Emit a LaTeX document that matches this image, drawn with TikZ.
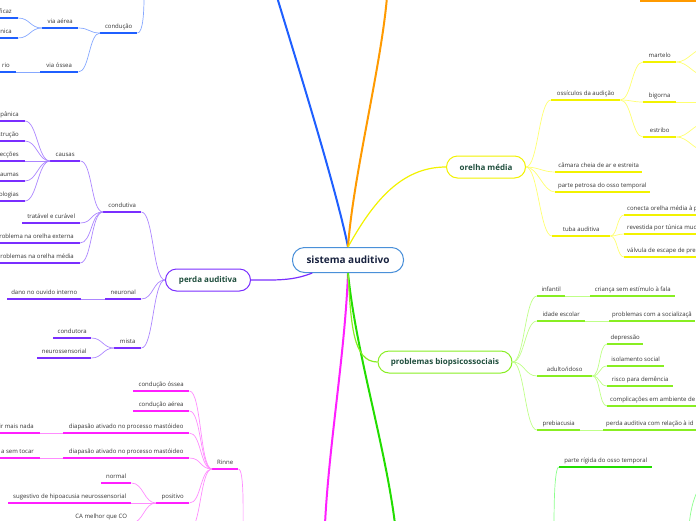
\documentclass[tikz,border=0pt]{standalone}
\usepackage{fontspec}
\setmainfont{Open Sans}
\definecolor{rootblue}{HTML}{4A90D9}
\definecolor{rootnavy}{HTML}{18223F}
\definecolor{topicgreen}{HTML}{1F4E3D}
\definecolor{leaftext}{HTML}{333333}
\definecolor{bluemain}{HTML}{1F5FFF}
\definecolor{bluethin}{HTML}{86A8FF}
\definecolor{orangemain}{HTML}{FF9A00}
\definecolor{yellowmain}{HTML}{F2F200}
\definecolor{yellowthin}{HTML}{FFFF70}
\definecolor{purplemain}{HTML}{7A2EFF}
\definecolor{purplethin}{HTML}{AC86FF}
\definecolor{limemain}{HTML}{88EE22}
\definecolor{limethin}{HTML}{BFFF88}
\definecolor{greenmain}{HTML}{22DD00}
\definecolor{greenthin}{HTML}{8CFF8C}
\definecolor{magentamain}{HTML}{FF1FFF}
\definecolor{magentathin}{HTML}{FF8CFF}
\begin{document}
\begin{tikzpicture}[
  x=1pt, y=-1pt,
  every node/.style={font=\fontsize{6}{7}\selectfont},
  root/.style={draw=rootblue, fill=white, line width=1pt, rounded corners=12pt, minimum width=111pt, minimum height=25pt, font=\bfseries\fontsize{10}{12}\selectfont, text=rootnavy},
  topic/.style={draw=#1, fill=white, line width=1pt, rounded corners=11pt, minimum height=22pt, font=\bfseries\fontsize{8}{9.5}\selectfont, text=topicgreen},
  sub/.style={anchor=south west, text=leaftext, inner xsep=3pt, inner ysep=3pt, text height=4.5pt, text depth=1.3pt,
    append after command={(\tikzlastnode.south west) edge[draw=#1, line width=1.4pt] (\tikzlastnode.south east)}},
  cut/.style={anchor=south east, inner xsep=6pt},
  trunk/.style={draw=#1, line width=2pt},
  link/.style={draw=#1, line width=0.7pt},
  fan/.style={to path={.. controls +(#1,0) and +({-(#1)},0) .. (\tikztotarget)}}
]
\useasboundingbox (0,0) rectangle (696,520);
\clip (0,0) rectangle (696,520);

\node[root] (root) at (348,260) {sistema auditivo};
\node[topic=purplemain, minimum width=85pt] (perda) at (208,280) {perda auditiva};
\node[topic=yellowmain, minimum width=79pt] (orelha) at (486,167) {orelha média};
\node[topic=limemain, minimum width=134pt] (problemas) at (445,362) {problemas biopsicossociais};

\coordinate (blueend) at (277,-3);
\coordinate (orangeend) at (387,-3);
\coordinate (magentaend) at (325,524);
\coordinate (greenend) at (395,524);

% blue
\node[sub=bluemain, minimum width=37pt] (conducao) at (100,33) {condução};
\node[sub=bluemain, minimum width=36pt] (viaaerea) at (42,28) {via aérea};
\node[sub=bluemain, minimum width=38pt] (viaossea) at (40,72) {via óssea};
\node[sub=bluemain, cut] (ficaz) at (18,18) {ficaz};
\node[sub=bluemain, cut] (nica) at (18,38) {nica};
\node[sub=bluemain, cut] (rio) at (16,72) {rio};
\coordinate (conducaoup) at (144,-3);

% orange
\node[sub=orangemain, minimum width=60pt] (orangetopic) at (640,1) {};

% purple
\node[sub=purplemain, minimum width=38pt] (condutiva) at (103,212) {condutiva};
\node[sub=purplemain, minimum width=36pt] (neuronal) at (105,299) {neuronal};
\node[sub=purplemain, minimum width=27pt] (mista) at (114,348) {mista};
\node[sub=purplemain, minimum width=30pt] (causas) at (50,161) {causas};
\node[sub=purplemain, minimum width=58pt] (tratavel) at (22,223) {tratável e curável};
\node[sub=purplemain, cut] (externa) at (80,243) {roblema na orelha externa};
\node[sub=purplemain, cut] (mediaprob) at (80,263) {roblemas na orelha média};
\node[sub=purplemain, cut] (timpanica) at (25,121) {pânica};
\node[sub=purplemain, cut] (obstrucao) at (25,141) {strução};
\node[sub=purplemain, cut] (infeccoes) at (25,161) {fecções};
\node[sub=purplemain, cut] (traumas) at (25,181) {aumas};
\node[sub=purplemain, cut] (patologias) at (25,201) {ologias};
\node[sub=purplemain, minimum width=74pt] (dano) at (7,299) {dano no ouvido interno};
\node[sub=purplemain, minimum width=38pt] (condutora) at (53,338) {condutora};
\node[sub=purplemain, minimum width=54pt] (neurossens) at (37,358) {neurossensorial};

% magenta
\node[sub=magentamain, minimum width=26pt] (rinne) at (212,469) {Rinne};
\node[sub=magentamain, minimum width=56pt] (condossea) at (133,391) {condução óssea};
\node[sub=magentamain, minimum width=56pt] (condaerea) at (133,411) {condução aérea};
\node[sub=magentamain, minimum width=126pt] (diapasaoa) at (63,433) {diapasão ativado no processo mastóideo};
\node[sub=magentamain, minimum width=126pt] (diapasaob) at (63,458) {diapasão ativado no processo mastóideo};
\node[sub=magentamain, minimum width=33pt] (positivo) at (156,503) {positivo};
\node[sub=magentamain, cut] (maisnada) at (40,433) {ir mais nada};
\node[sub=magentamain, cut] (semtocar) at (40,458) {a sem tocar};
\node[sub=magentamain, minimum width=30pt] (normal) at (101,483) {normal};
\node[sub=magentamain, minimum width=123pt] (sugestivo) at (8,503) {sugestivo de hipoacusia neurossensorial};
\node[sub=magentamain, minimum width=60pt] (camelhor) at (71,523) {CA melhor que CO};
\coordinate (rinneparent) at (243,536);
\coordinate (rinnenext) at (189,530);

% yellow
\node[sub=yellowmain, minimum width=69pt] (ossiculos) at (551,100) {ossículos da audição};
\node[sub=yellowmain, minimum width=87pt] (camara) at (555,172) {câmara cheia de ar e estreita};
\node[sub=yellowmain, minimum width=93pt] (petrosa) at (555,192) {parte petrosa do osso temporal};
\node[sub=yellowmain, minimum width=58pt] (tuba) at (552,236) {tuba auditiva};
\node[sub=yellowmain, minimum width=33pt] (martelo) at (643,62) {martelo};
\node[sub=yellowmain, minimum width=33pt] (bigorna) at (643,102) {bigorna};
\node[sub=yellowmain, minimum width=33pt] (estribo) at (643,137) {estribo};
\node[sub=yellowmain] (conecta) at (624,215) {conecta orelha média à p};
\node[sub=yellowmain] (revestida) at (624,234) {revestida por túnica muc};
\node[sub=yellowmain] (valvula) at (624,257) {válvula de escape de pre};
\coordinate (martelotop) at (706,48);
\coordinate (martelobot) at (706,76);
\coordinate (bigornanext) at (706,102);
\coordinate (estribotop) at (706,123);
\coordinate (estribobot) at (706,151);

% lime
\node[sub=limemain, minimum width=28pt] (infantil) at (537,296) {infantil};
\node[sub=limemain, minimum width=85pt] (crianca) at (590,296) {criança sem estímulo à fala};
\node[sub=limemain, minimum width=48pt] (escolar) at (537,321) {idade escolar};
\node[sub=limemain] (socializacao) at (609,321) {problemas com a socializaçã};
\node[sub=limemain, minimum width=55pt] (adulto) at (537,376) {adulto/idoso};
\node[sub=limemain, minimum width=36pt] (depressao) at (607,344) {depressão};
\node[sub=limemain, minimum width=57pt] (isolamento) at (607,366) {isolamento social};
\node[sub=limemain, minimum width=66pt] (risco) at (607,386) {risco para demência};
\node[sub=limemain] (complicacoes) at (607,406) {complicações em ambiente de};
\node[sub=limemain, minimum width=43pt] (prebiacusia) at (537,430) {prebiacusia};
\node[sub=limemain] (perdaidade) at (603,430) {perda auditiva com relação à id};

% green
\node[sub=greenmain, minimum width=93pt] (rigida) at (559,467) {parte rígida do osso temporal};
\coordinate (rigidaparent) at (554,532);
\coordinate (greenrighttop) at (703,487);
\coordinate (greenrightbot) at (689,530);

\draw[trunk=bluemain] (root.north) .. controls +(-12,-60) and +(15,50) .. (blueend);
\draw[trunk=orangemain] (root.north) .. controls +(5,-70) and +(-6,70) .. (orangeend);
\draw[trunk=magentamain] (root.south) .. controls +(-3,80) and +(4,-80) .. (magentaend);
\draw[trunk=greenmain] (root.south) .. controls +(8,80) and +(-10,-80) .. (greenend);
\draw[link=yellowmain, line width=1.2pt] (root.north) .. controls +(25,-45) and +(-45,0) .. (orelha.west);
\draw[link=purplemain, line width=1.2pt] (root.-160) .. controls +(-20,8) and +(25,0) .. (perda.east);
\draw[link=limemain, line width=1.2pt] (root.south) .. controls +(3,50) and +(-25,0) .. (problemas.west);

\draw[link=bluethin] (conducao.south east) .. controls +(6,0) and +(0,12) .. (conducaoup);
\draw[link=bluethin] (conducao.south west) to[fan=-11] (viaaerea.south east);
\draw[link=bluethin] (conducao.south west) to[fan=-11] (viaossea.south east);
\draw[link=bluethin] (viaaerea.south west) to[fan=-12] (ficaz.south east);
\draw[link=bluethin] (viaaerea.south west) to[fan=-12] (nica.south east);
\draw[link=bluethin] (viaossea.south west) to[fan=-12] (rio.south east);

\draw[link=purplethin] (perda.west) to[fan=-12] (condutiva.south east);
\draw[link=purplethin] (perda.west) to[fan=-12] (neuronal.south east);
\draw[link=purplethin] (perda.west) to[fan=-12] (mista.south east);
\draw[link=purplethin] (condutiva.south west) to[fan=-12] (causas.south east);
\draw[link=purplethin] (condutiva.south west) to[fan=-12] (tratavel.south east);
\draw[link=purplethin] (condutiva.south west) to[fan=-12] (externa.south east);
\draw[link=purplethin] (condutiva.south west) to[fan=-12] (mediaprob.south east);
\foreach \leaf in {timpanica, obstrucao, infeccoes, traumas, patologias}
  \draw[link=purplethin] (causas.south west) to[fan=-12] (\leaf.south east);
\draw[link=purplethin] (neuronal.south west) to[fan=-12] (dano.south east);
\draw[link=purplethin] (mista.south west) to[fan=-11] (condutora.south east);
\draw[link=purplethin] (mista.south west) to[fan=-11] (neurossens.south east);

\draw[link=magentathin] (rinne.south east) .. controls +(6,0) and +(0,-20) .. (rinneparent);
\foreach \leaf in {condossea, condaerea, diapasaoa, diapasaob, positivo, rinnenext}
  \draw[link=magentathin] (rinne.south west) to[fan=-12] (\leaf.south east);
\draw[link=magentathin] (diapasaoa.south west) to[fan=-12] (maisnada.south east);
\draw[link=magentathin] (diapasaob.south west) to[fan=-12] (semtocar.south east);
\foreach \leaf in {normal, sugestivo, camelhor}
  \draw[link=magentathin] (positivo.south west) to[fan=-12] (\leaf.south east);

\foreach \leaf in {ossiculos, camara, petrosa, tuba}
  \draw[link=yellowthin] (orelha.east) to[fan=12] (\leaf.south west);
\foreach \leaf in {martelo, bigorna, estribo}
  \draw[link=yellowthin] (ossiculos.south east) to[fan=11] (\leaf.south west);
\draw[link=yellowthin] (martelo.south east) to[fan=12] (martelotop);
\draw[link=yellowthin] (martelo.south east) to[fan=12] (martelobot);
\draw[link=yellowthin] (bigorna.south east) -- (bigornanext);
\draw[link=yellowthin] (estribo.south east) to[fan=12] (estribotop);
\draw[link=yellowthin] (estribo.south east) to[fan=12] (estribobot);
\foreach \leaf in {conecta, revestida, valvula}
  \draw[link=yellowthin] (tuba.south east) to[fan=7] (\leaf.south west);

\foreach \leaf in {infantil, escolar, adulto, prebiacusia}
  \draw[link=limethin] (problemas.east) to[fan=12] (\leaf.south west);
\draw[link=limethin] (infantil.south east) -- (crianca.south west);
\draw[link=limethin] (escolar.south east) -- (socializacao.south west);
\foreach \leaf in {depressao, isolamento, risco, complicacoes}
  \draw[link=limethin] (adulto.south east) to[fan=8] (\leaf.south west);
\draw[link=limethin] (prebiacusia.south east) -- (perdaidade.south west);

\draw[link=greenthin] (rigida.south west) .. controls +(-5,0) and +(0,-20) .. (rigidaparent);
\draw[link=greenthin] (greenrighttop) .. controls +(-8,0) and +(0,-15) .. (greenrightbot);
\end{tikzpicture}
\end{document}
